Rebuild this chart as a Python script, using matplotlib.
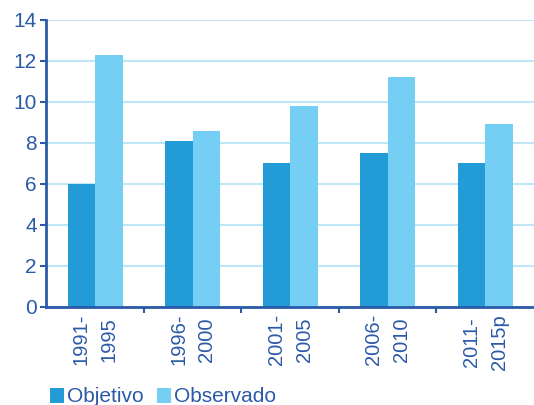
import numpy as np
import matplotlib
matplotlib.use('Agg')
import matplotlib.pyplot as plt

plt.rcParams['font.family'] = ['Liberation Sans', 'DejaVu Sans']

# datos
periodos = ['1991-\n1995', '1996-\n2000', '2001-\n2005', '2006-\n2010', '2011-\n2015p']
objetivo = [6.0, 8.1, 7.0, 7.5, 7.0]
observado = [12.3, 8.6, 9.8, 11.2, 8.9]
yticks = [0, 2, 4, 6, 8, 10, 12, 14]

c_obj = '#239bd6'
c_obs = '#75cef3'
c_txt = '#2b5aa8'
c_grid = '#bfe6f7'

fig = plt.figure(figsize=(5.34, 4.05), dpi=100)
ax = fig.add_axes([0.087, 0.242, 0.913, 0.709])

x = np.arange(len(periodos))
w = 0.28
ax.bar(x - w / 2, objetivo, w, color=c_obj, label='Objetivo', zorder=3)
ax.bar(x + w / 2, observado, w, color=c_obs, label='Observado', zorder=3)

ax.set_xlim(-0.5, len(periodos) - 0.5)
ax.set_ylim(0, 14)
ax.set_yticks(yticks)
ax.yaxis.grid(True, color=c_grid, linewidth=1.5, zorder=0)
ax.set_axisbelow(True)

# etiquetas de categoria sin marcas, marcas en los limites
ax.set_xticks(x)
ax.set_xticklabels(periodos, rotation=90, ha='center', va='top',
                   multialignment='center', linespacing=1.6)
ax.tick_params(axis='x', length=0, pad=5, labelsize=14.5, labelcolor=c_txt)
ax.set_xticks(np.arange(0.5, len(periodos) - 0.5), minor=True)
ax.tick_params(axis='x', which='minor', length=4, width=1.5, color=c_txt)
ax.tick_params(axis='y', length=4, width=1.5, color=c_txt, labelsize=15,
               labelcolor=c_txt, pad=3)

for s in ['top', 'right']:
    ax.spines[s].set_visible(False)
for s in ['left', 'bottom']:
    ax.spines[s].set_color(c_txt)
    ax.spines[s].set_linewidth(2)
    ax.spines[s].set_zorder(4)

leg = fig.legend(loc='lower left', bbox_to_anchor=(0.058, -0.05), ncol=2,
                 frameon=False, handlelength=0.7, handleheight=0.7,
                 handletextpad=0.15, columnspacing=0.6, fontsize=15)
for t in leg.get_texts():
    t.set_color(c_txt)

plt.savefig('out.png', dpi=100)
